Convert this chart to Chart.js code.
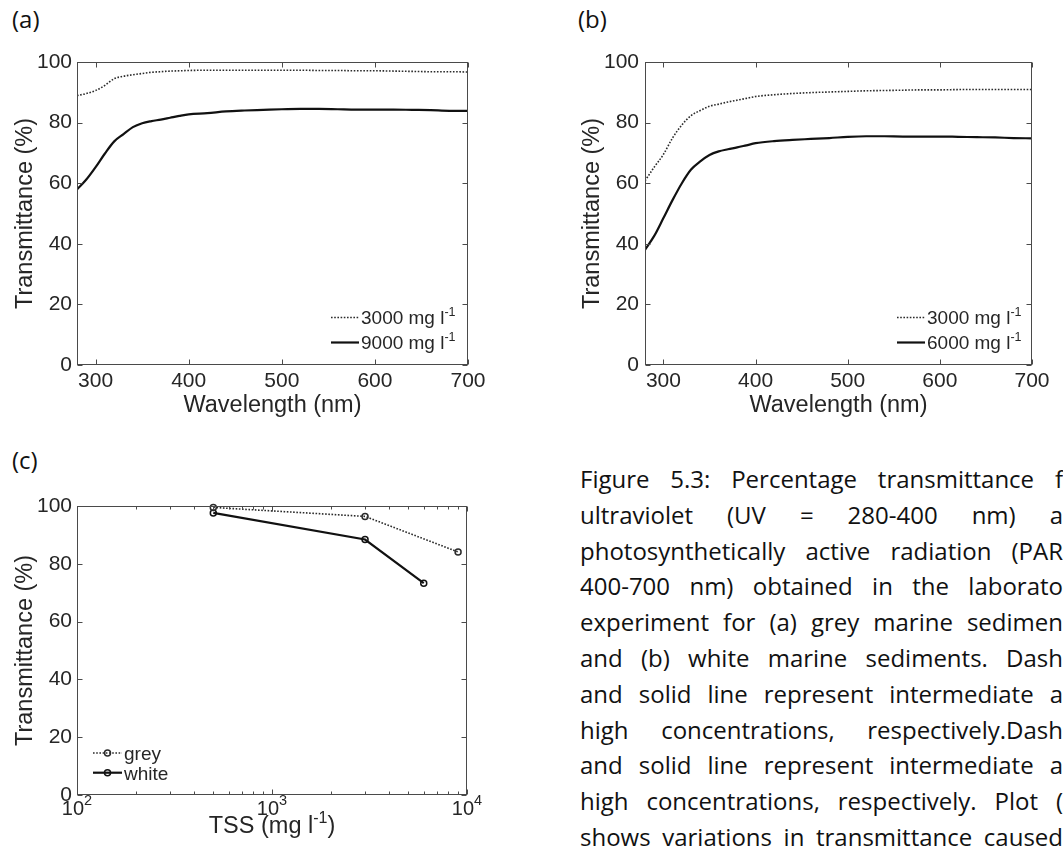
<!DOCTYPE html>
<html>
<head>
<meta charset="utf-8">
<script src="https://cdn.jsdelivr.net/npm/chart.js@4.4.1/dist/chart.umd.min.js"></script>
<style>
  html, body { margin: 0; padding: 0; background: #fff; }
  body { width: 1063px; height: 863px; position: relative; overflow: hidden; }
  canvas { position: absolute; }
  .panel { position: absolute; font-family: "Open Sans", Lato, sans-serif; font-size: 24px; line-height: 24px; color: #111; }
  #caption { position: absolute; left: 580px; top: 461px; width: 483px;
             font-family: "Open Sans", Lato, sans-serif; font-size: 24px; line-height: 35.8px; color: #111; }
  #caption div { text-align: justify; text-align-last: justify; }
</style>
</head>
<body>
<div class="panel" style="left:12px; top:7px;">(a)</div>
<div class="panel" style="left:578px; top:7px;">(b)</div>
<div class="panel" style="left:12px; top:448px;">(c)</div>

<canvas id="chartA" width="530" height="430" style="left:0; top:0;"></canvas>
<canvas id="chartB" width="533" height="430" style="left:530px; top:0;"></canvas>
<canvas id="chartC" width="530" height="433" style="left:0; top:430px;"></canvas>

<div id="caption">
  <div>Figure 5.3: Percentage transmittance f</div>
  <div>ultraviolet (UV = 280-400 nm) a</div>
  <div>photosynthetically active radiation (PAR</div>
  <div>400-700 nm) obtained in the laborato</div>
  <div>experiment for (a) grey marine sedimen</div>
  <div>and (b) white marine sediments. Dash</div>
  <div>and solid line represent intermediate a</div>
  <div>high concentrations, respectively.Dash</div>
  <div>and solid line represent intermediate a</div>
  <div>high concentrations, respectively. Plot (</div>
  <div>shows variations in transmittance caused</div>
</div>

<script>
// spectra (nm, % transmittance)
const wavelength = [280, 290, 300, 310, 320, 330, 340, 350, 360, 370, 380, 390, 400,
                    420, 440, 460, 480, 500, 520, 540, 560, 580, 600, 620, 640, 660, 680, 700];
const grey3000 = [88.9, 89.6, 90.6, 92.3, 94.5, 95.3, 95.8, 96.2, 96.6, 96.8, 97.0, 97.1, 97.2,
                  97.3, 97.3, 97.3, 97.3, 97.3, 97.3, 97.2, 97.2, 97.1, 97.1, 97.0, 96.9, 96.8, 96.8, 96.7];
const grey9000 = [57.9, 61.2, 65.3, 69.8, 73.8, 76.2, 78.5, 79.8, 80.5, 81.0, 81.6, 82.2, 82.7,
                  83.1, 83.7, 84.0, 84.2, 84.4, 84.5, 84.5, 84.4, 84.3, 84.3, 84.3, 84.2, 84.1, 83.9, 83.9];
const white3000 = [60.8, 65.3, 69.5, 75.0, 79.2, 82.3, 84.0, 85.4, 86.1, 86.8, 87.4, 88.0, 88.6,
                   89.2, 89.6, 89.9, 90.1, 90.3, 90.5, 90.6, 90.7, 90.8, 90.8, 90.9, 90.9, 90.9, 90.9, 90.9];
const white6000 = [38.0, 42.6, 48.5, 54.5, 60.0, 64.5, 67.2, 69.3, 70.5, 71.2, 71.8, 72.5, 73.2,
                   73.9, 74.3, 74.6, 74.9, 75.3, 75.5, 75.5, 75.4, 75.4, 75.4, 75.3, 75.2, 75.1, 74.9, 74.8];

// mean transmittance against TSS
const tssGrey = [500, 3000, 9000];
const transGrey = [99.5, 96.4, 84.1];
const tssWhite = [500, 3000, 6000];
const transWhite = [97.6, 88.4, 73.3];

const wavelengthTicks = [300, 400, 500, 600, 700];
const percentTicks = [0, 20, 40, 60, 80, 100];
const tssTicks = [100, 1000, 10000];
const tssMinorTicks = [200, 300, 400, 500, 600, 700, 800, 900, 2000, 3000, 4000, 5000, 6000, 7000, 8000, 9000];

const FONT = '"Liberation Sans", Arial, Helvetica, sans-serif';
const INK = '#262626';

const pairs = (xs, ys) => xs.map((x, i) => ({ x: x, y: ys[i] }));

// "TSS (mg l^{-1})" -> [["TSS (mg l", false], ["-1", true], [")", false]]
function splitSup(label) {
  const parts = [];
  label.split(/\^\{([^}]*)\}/).forEach((t, i) => {
    if (t) parts.push([t, i % 2 === 1]);
  });
  return parts;
}

// text runs with raised exponents, y is the baseline
function drawParts(ctx, parts, x, y, size, align, supSize, rise) {
  supSize = supSize || Math.round(size * 0.66);
  rise = rise || size * 0.42;
  const widths = parts.map(([t, sup]) => {
    ctx.font = (sup ? supSize : size) + 'px ' + FONT;
    return ctx.measureText(t).width;
  });
  const total = widths.reduce((a, b) => a + b, 0);
  let cx = align === 'center' ? x - total / 2 : x;
  ctx.textAlign = 'left';
  ctx.textBaseline = 'alphabetic';
  parts.forEach(([t, sup], i) => {
    ctx.font = (sup ? supSize : size) + 'px ' + FONT;
    ctx.fillText(t, cx, sup ? y - rise : y);
    cx += widths[i];
  });
}

// closed axes box with inward ticks on all four sides
const boxTicks = {
  id: 'boxTicks',
  afterDraw(chart, args, opts) {
    const { ctx, chartArea: ca, scales: { x, y } } = chart;
    const l = Math.round(ca.left) + 0.5, r = Math.round(ca.right) - 0.5;
    const t = Math.round(ca.top) + 0.5, b = Math.round(ca.bottom) - 0.5;
    ctx.save();
    ctx.strokeStyle = '#4a4a4a';
    ctx.lineWidth = 1;
    ctx.setLineDash([]);
    ctx.strokeRect(l, t, r - l, b - t);
    ctx.beginPath();
    const xTick = (v, len) => {
      const px = Math.round(x.getPixelForValue(v)) + 0.5;
      ctx.moveTo(px, b); ctx.lineTo(px, b - len);
      ctx.moveTo(px, t); ctx.lineTo(px, t + len);
    };
    x.ticks.forEach(tk => xTick(tk.value, 5));
    (opts.minor || []).forEach(v => xTick(v, 3));
    y.ticks.forEach(tk => {
      const py = Math.round(y.getPixelForValue(tk.value)) + 0.5;
      ctx.moveTo(l, py); ctx.lineTo(l + 5, py);
      ctx.moveTo(r, py); ctx.lineTo(r - 5, py);
    });
    ctx.stroke();
    ctx.restore();
  }
};

const axisTitles = {
  id: 'axisTitles',
  afterDraw(chart, args, opts) {
    const { ctx, chartArea: ca } = chart;
    ctx.save();
    ctx.fillStyle = INK;
    drawParts(ctx, splitSup(opts.x), (ca.left + ca.right) / 2, ca.bottom + opts.xOffset, 23.5, 'center');
    ctx.translate(ca.left - opts.yOffset, (ca.top + ca.bottom) / 2);
    ctx.rotate(-Math.PI / 2);
    drawParts(ctx, splitSup(opts.y), 0, 0, 23.5, 'center');
    ctx.restore();
  }
};

// 10^n labels for the log axis
const powerLabels = {
  id: 'powerLabels',
  afterDraw(chart, args, opts) {
    const { ctx, chartArea: ca, scales: { x } } = chart;
    ctx.save();
    ctx.fillStyle = INK;
    x.ticks.forEach(tk => {
      const exp = String(Math.round(Math.log10(tk.value)));
      drawParts(ctx, [['10', false], [exp, true]], x.getPixelForValue(tk.value), ca.bottom + 20, 20, 'center', 14.5, 10);
    });
    ctx.restore();
  }
};

// legend without frame: line sample + label
const boxLegend = {
  id: 'boxLegend',
  afterDraw(chart, args, opts) {
    const { ctx, chartArea: ca } = chart;
    const x0 = opts.side === 'left' ? ca.left + opts.dx : ca.right - opts.dx;
    chart.data.datasets.forEach((ds, i) => {
      const y = ca.bottom - opts.rows[i];
      ctx.save();
      ctx.strokeStyle = ds.borderColor;
      ctx.lineWidth = ds.borderWidth;
      ctx.setLineDash(ds.borderDash || []);
      ctx.beginPath();
      ctx.moveTo(x0, y);
      ctx.lineTo(x0 + opts.sample, y);
      ctx.stroke();
      if (ds.pointRadius) {
        ctx.setLineDash([]);
        ctx.lineWidth = ds.pointBorderWidth;
        ctx.beginPath();
        ctx.arc(x0 + opts.sample / 2, y, ds.pointRadius, 0, Math.PI * 2);
        ctx.stroke();
      }
      ctx.fillStyle = INK;
      drawParts(ctx, splitSup(ds.label), x0 + opts.sample + 2, y + 6.8, 19, 'left', 12.5, 8);
      ctx.restore();
    });
  }
};

const dotted = { borderColor: '#2b2b2b', borderWidth: 1.6, borderDash: [1.6, 1.6], fill: false };
const solid = { borderColor: '#111', borderWidth: 2.2, fill: false };

function axesOptions(o) {
  return {
    responsive: false,
    animation: false,
    devicePixelRatio: 1,
    layout: { padding: { left: 0, top: o.top, right: o.right, bottom: 0 } },
    plugins: {
      legend: { display: false },
      tooltip: { enabled: false },
      boxTicks: { minor: o.minor || [] },
      axisTitles: o.titles,
      boxLegend: o.legend
    },
    scales: {
      x: {
        type: o.xType || 'linear',
        min: o.xMin,
        max: o.xMax,
        grid: { display: false, drawTicks: false },
        border: { display: false },
        ticks: { display: o.xLabels !== false, padding: 4, autoSkip: false, maxRotation: 0,
                 font: { family: FONT, size: 21 }, color: INK },
        afterBuildTicks: s => { s.ticks = o.xTicks.map(v => ({ value: v })); },
        afterFit: s => { s.height = o.xHeight; }
      },
      y: {
        min: 0,
        max: 100,
        grid: { display: false, drawTicks: false },
        border: { display: false },
        ticks: { padding: o.yPad, font: { family: FONT, size: 21 }, color: INK },
        afterBuildTicks: s => { s.ticks = percentTicks.map(v => ({ value: v })); },
        afterFit: s => { s.width = o.yWidth; }
      }
    }
  };
}

// (a) grey marine sediment
new Chart(document.getElementById('chartA'), {
  type: 'line',
  data: {
    datasets: [
      Object.assign({ label: '3000 mg l^{-1}', data: pairs(wavelength, grey3000), pointRadius: 0, cubicInterpolationMode: 'monotone' }, dotted),
      Object.assign({ label: '9000 mg l^{-1}', data: pairs(wavelength, grey9000), pointRadius: 0, cubicInterpolationMode: 'monotone' }, solid)
    ]
  },
  options: axesOptions({
    top: 62, right: 62, xHeight: 65, yWidth: 77, yPad: 5,
    xMin: 280, xMax: 700, xTicks: wavelengthTicks,
    titles: { x: 'Wavelength (nm)', y: 'Transmittance (%)', xOffset: 47, yOffset: 45.5 },
    legend: { side: 'right', dx: 137, sample: 28, rows: [47.5, 22.5] }
  }),
  plugins: [boxTicks, axisTitles, boxLegend]
});

// (b) white marine sediment
new Chart(document.getElementById('chartB'), {
  type: 'line',
  data: {
    datasets: [
      Object.assign({ label: '3000 mg l^{-1}', data: pairs(wavelength, white3000), pointRadius: 0, cubicInterpolationMode: 'monotone' }, dotted),
      Object.assign({ label: '6000 mg l^{-1}', data: pairs(wavelength, white6000), pointRadius: 0, cubicInterpolationMode: 'monotone' }, solid)
    ]
  },
  options: axesOptions({
    top: 62, right: 31, xHeight: 65, yWidth: 115, yPad: 6,
    xMin: 280, xMax: 700, xTicks: wavelengthTicks,
    titles: { x: 'Wavelength (nm)', y: 'Transmittance (%)', xOffset: 47, yOffset: 46.5 },
    legend: { side: 'right', dx: 135, sample: 28, rows: [47.5, 22.5] }
  }),
  plugins: [boxTicks, axisTitles, boxLegend]
});

// (c) transmittance vs total suspended solids
const markers = { pointRadius: 3, pointBorderWidth: 1.5, pointBackgroundColor: 'rgba(0,0,0,0)', clip: false, tension: 0 };
new Chart(document.getElementById('chartC'), {
  type: 'line',
  data: {
    datasets: [
      Object.assign({ label: 'grey', data: pairs(tssGrey, transGrey), pointBorderColor: '#2b2b2b' }, dotted, markers),
      Object.assign({ label: 'white', data: pairs(tssWhite, transWhite), pointBorderColor: '#111' }, solid, markers)
    ]
  },
  options: axesOptions({
    top: 76, right: 63, xHeight: 68, yWidth: 77, yPad: 5,
    xType: 'logarithmic', xMin: 100, xMax: 10000, xTicks: tssTicks, xLabels: false, minor: tssMinorTicks,
    titles: { x: 'TSS (mg l^{-1})', y: 'Transmittance (%)', xOffset: 38, yOffset: 44.7 },
    legend: { side: 'left', dx: 16, sample: 29, rows: [42, 22.3] }
  }),
  plugins: [boxTicks, axisTitles, powerLabels, boxLegend]
});
</script>
</body>
</html>
